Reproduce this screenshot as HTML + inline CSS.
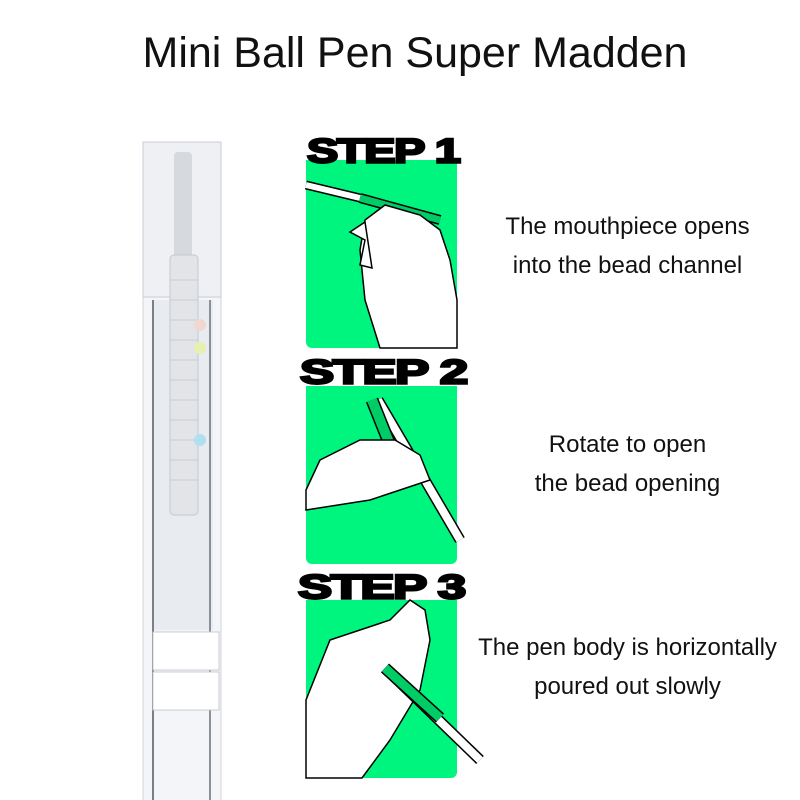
<!DOCTYPE html>
<html><head><style>
body{margin:0;width:800px;height:800px;background:#fff;position:relative;overflow:hidden;font-family:"Liberation Sans",sans-serif}
.t{position:absolute;left:15px;width:800px;text-align:center;top:29px;font-size:43px;color:#111}
.d{position:absolute;left:455px;width:345px;text-align:center;font-size:24px;line-height:39px;color:#111}
.g{position:absolute;left:306px;width:151px;background:#00f57f;border-radius:0 0 6px 6px}
.s{position:absolute;font-weight:900;font-size:36px;letter-spacing:-1px;color:#000;transform-origin:top left;font-family:"Liberation Sans",sans-serif;-webkit-text-stroke:2.5px #000;line-height:36px;white-space:nowrap}
</style></head><body>
<div class="g" style="top:160px;height:188px"></div>
<div class="g" style="top:386px;height:178px"></div>
<div class="g" style="top:600px;height:178px"></div>
<div class="t">Mini Ball Pen Super Madden</div>

<svg style="position:absolute;left:0;top:0" width="800" height="800">
<rect x="143" y="142" width="78" height="660" fill="#f3f5f8" stroke="#d0d4da"/>
<rect x="143" y="142" width="78" height="155" fill="#eef0f4" stroke="#c8ccd4"/>
<rect x="153" y="300" width="60" height="330" fill="#e8ebef"/>
<line x1="153" y1="300" x2="153" y2="800" stroke="#7a8088" stroke-width="2"/>
<line x1="210" y1="300" x2="210" y2="800" stroke="#8a9098" stroke-width="2"/>
<rect x="174" y="152" width="18" height="120" fill="#d6d9de" rx="4"/>
<rect x="170" y="255" width="28" height="260" fill="#e2e4e8" stroke="#c4c7cc" rx="4"/>
<g stroke="#c8cbd0"><line x1="170" y1="280" x2="198" y2="280"/><line x1="170" y1="300" x2="198" y2="300"/><line x1="170" y1="320" x2="198" y2="320"/><line x1="170" y1="340" x2="198" y2="340"/><line x1="170" y1="360" x2="198" y2="360"/><line x1="170" y1="380" x2="198" y2="380"/><line x1="170" y1="400" x2="198" y2="400"/><line x1="170" y1="420" x2="198" y2="420"/><line x1="170" y1="440" x2="198" y2="440"/><line x1="170" y1="460" x2="198" y2="460"/><line x1="170" y1="480" x2="198" y2="480"/></g>
<circle cx="200" cy="325" r="6" fill="#f0d8d0"/><circle cx="200" cy="348" r="6" fill="#e8f0b0"/><circle cx="200" cy="440" r="6" fill="#b0e0f0"/>
<rect x="153" y="632" width="66" height="38" fill="#fff" stroke="#c8ccd4"/>
<rect x="153" y="672" width="66" height="38" fill="#fff" stroke="#c8ccd4"/>
<g fill="none">
<path d="M306 185 L360 198" stroke="#000" stroke-width="9"/><path d="M306 185 L360 198" stroke="#fff" stroke-width="6"/>
<path d="M360 198 L440 220" stroke="#000" stroke-width="10"/><path d="M360 198 L440 220" stroke="#0c6" stroke-width="7"/>
</g>
<path d="M380 348 L365 300 L360 250 L365 220 L385 205 L420 215 L440 230 L450 260 L457 300 L457 348 Z" fill="#fff" stroke="#000" stroke-width="1.5"/>
<path d="M365 222 L350 232 L365 240 L360 265 L372 268 Z" fill="#fff" stroke="#000" stroke-width="1.5"/>
<g fill="none">
<path d="M378 400 L460 540" stroke="#000" stroke-width="11"/><path d="M378 400 L460 540" stroke="#fff" stroke-width="8"/>
<path d="M372 400 L400 470" stroke="#000" stroke-width="13"/><path d="M372 400 L400 470" stroke="#0c6" stroke-width="10"/>
</g>
<path d="M306 490 L320 460 L360 440 L395 440 L420 455 L430 480 L400 490 L370 500 L306 510 Z" fill="#fff" stroke="#000" stroke-width="1.5"/>
<path d="M306 700 L330 640 L360 630 L390 620 L410 600 L425 610 L430 640 L420 690 L390 740 L362 778 L306 778 Z" fill="#fff" stroke="#000" stroke-width="1.5"/>
<g fill="none">
<path d="M385 668 L480 760" stroke="#000" stroke-width="11"/><path d="M385 668 L480 760" stroke="#fff" stroke-width="8"/>
<path d="M385 668 L440 718" stroke="#000" stroke-width="12"/><path d="M385 668 L440 718" stroke="#0c6" stroke-width="9"/>
</g>
</svg>
<div class="s" style="left:307px;top:134px;transform:scale(1.3,0.95)">STEP 1</div>
<div class="s" style="left:300px;top:355px;transform:scale(1.42,0.95)">STEP 2</div>
<div class="s" style="left:298px;top:570px;transform:scale(1.42,0.95)">STEP 3</div>

<div class="d" style="top:207px">The mouthpiece opens<br>into the bead channel</div>
<div class="d" style="top:425px">Rotate to open<br>the bead opening</div>
<div class="d" style="top:628px">The pen body is horizontally<br>poured out slowly</div>
</body></html>
